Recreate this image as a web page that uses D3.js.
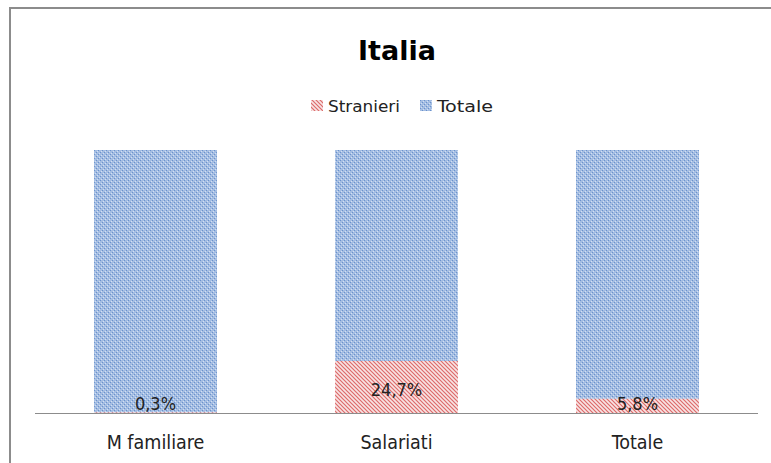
<!DOCTYPE html>
<html>
<head>
  <meta charset="UTF-8">
  <title>Italia</title>
  <style>
    body { margin: 0; background: white; font-family: 'DejaVu Sans Condensed', 'Liberation Sans', sans-serif; }
    svg { display: block; }
  </style>
</head>
<body>
  <svg id="chart" width="771" height="463"></svg>
  <script src="https://d3js.org/d3.v7.min.js"></script>
  <script>
    // data
    const categories = ["M familiare", "Salariati", "Totale"];
    const stranieri = [0.3, 24.7, 5.8];
    const totale = [100, 100, 100];
    const seriesNames = ["Stranieri", "Totale"];

    const width = 771, height = 463;
    const svg = d3.select("#chart");

    // patterns
    const defs = svg.append("defs");
    let pb = defs.append("pattern").attr("id", "blueFill")
      .attr("patternUnits", "userSpaceOnUse").attr("width", 4).attr("height", 4);
    pb.append("rect").attr("width", 4).attr("height", 4).attr("fill", "#a4bde2");
    pb.append("rect").attr("x", 0).attr("y", 0).attr("width", 1).attr("height", 1).attr("fill", "#6a92cd");
    pb.append("rect").attr("x", 2).attr("y", 2).attr("width", 1).attr("height", 1).attr("fill", "#6a92cd");
    pb.append("rect").attr("x", 1).attr("y", 3).attr("width", 1).attr("height", 1).attr("fill", "#d3e0f3");
    pb.append("rect").attr("x", 3).attr("y", 1).attr("width", 1).attr("height", 1).attr("fill", "#d3e0f3");

    let pr = defs.append("pattern").attr("id", "redFill")
      .attr("patternUnits", "userSpaceOnUse").attr("width", 4).attr("height", 4);
    pr.append("rect").attr("width", 4).attr("height", 4).attr("fill", "#f8e4e4");
    pr.append("path").attr("d", "M-1,-1 L5,5 M-1,3 L1,5 M3,-1 L5,1")
      .attr("stroke", "#dd6a6a").attr("stroke-width", 1.2);

    const fills = { "Stranieri": "url(#redFill)", "Totale": "url(#blueFill)" };

    // frame
    svg.append("rect").attr("x", 10).attr("y", 8).attr("width", 780).attr("height", 480)
      .attr("fill", "none").attr("stroke", "#8c8c8c").attr("stroke-width", 2);

    // title
    svg.append("text").attr("x", 397).attr("y", 60).attr("text-anchor", "middle")
      .attr("font-family", "'DejaVu Sans', sans-serif")
      .attr("font-weight", "bold").attr("font-size", 27).attr("fill", "#000")
      .text("Italia");

    const rows = categories.map((c, i) => ({ cat: c, Stranieri: stranieri[i], Totale: totale[i] }));
    const stacked = d3.stack().keys(seriesNames).offset(d3.stackOffsetExpand)(rows);

    const x = d3.scaleBand().domain(categories).range([35, 758])
      .paddingInner(0.49).paddingOuter(0.245);
    const y = d3.scaleLinear().domain([0, 1]).range([413, 150]);

    svg.append("g").selectAll("g")
      .data(stacked).enter().append("g")
      .attr("fill", d => fills[d.key])
      .selectAll("rect")
      .data(d => d).enter().append("rect")
      .attr("x", d => x(d.data.cat))
      .attr("width", x.bandwidth())
      .attr("y", d => y(d[1]))
      .attr("height", d => y(d[0]) - y(d[1]));

    // axis line
    svg.append("line").attr("x1", 35).attr("x2", 758).attr("y1", 413.5).attr("y2", 413.5)
      .attr("stroke", "#8c8c8c").attr("stroke-width", 1);

    // category labels
    svg.append("g").selectAll("text")
      .data(categories).enter().append("text")
      .attr("x", d => x(d) + x.bandwidth() / 2)
      .attr("y", 449)
      .attr("text-anchor", "middle")
      .attr("font-size", 19.5).attr("fill", "#222")
      .text(d => d);

    // data labels for Stranieri
    const fmt = v => d3.format(".1f")(v).replace(".", ",") + "%";
    svg.append("g").selectAll("text")
      .data(stacked[0]).enter().append("text")
      .attr("x", d => x(d.data.cat) + x.bandwidth() / 2)
      .attr("y", d => Math.min((y(d[0]) + y(d[1])) / 2, 401) + 9)
      .attr("text-anchor", "middle")
      .attr("font-size", 18).attr("fill", "#222")
      .text(d => fmt(d.data.Stranieri));

    // legend
    const legend = svg.append("g").attr("font-size", 16).attr("fill", "#222");
    const legendX = [311, 420];
    const legendW = [72, 56];
    seriesNames.forEach((s, i) => {
      legend.append("rect").attr("x", legendX[i]).attr("y", 100).attr("width", 12).attr("height", 11)
        .attr("fill", fills[s]);
      legend.append("text").attr("x", legendX[i] + 17).attr("y", 112)
        .attr("textLength", legendW[i]).attr("lengthAdjust", "spacingAndGlyphs").text(s);
    });
  </script>
</body>
</html>
